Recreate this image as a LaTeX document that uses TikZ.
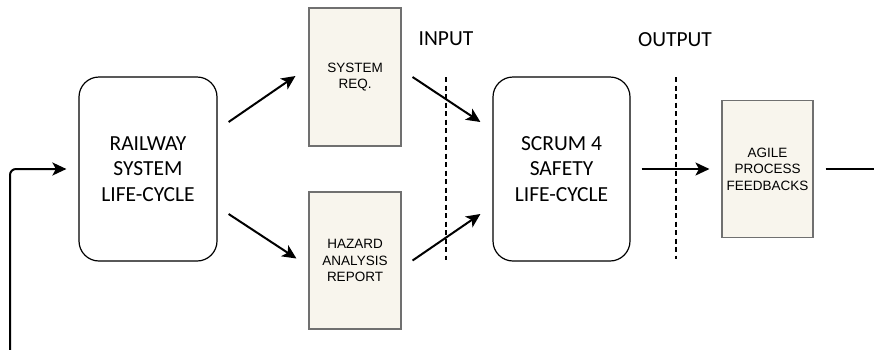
\documentclass[tikz,border=0pt]{standalone}
\usepackage{fontspec}
\setmainfont{Carlito}
\newfontfamily\docfont{Liberation Sans}
\usetikzlibrary{arrows.meta}

\definecolor{docfill}{HTML}{F8F5ED}
\definecolor{docedge}{HTML}{707070}

\tikzset{
  phase/.style={draw=black, line width=1.2pt, rounded corners=20pt, fill=white,
    inner sep=0pt, align=center, font={\fontsize{21.5}{25.5}\selectfont}},
  artefact/.style={draw=docedge, line width=1.1pt, fill=docfill,
    inner sep=0pt, align=center, font={\docfont\fontsize{13.5}{16.5}\selectfont}},
  flow/.style={line width=2pt, -{Stealth[length=14pt,width=13pt,inset=3.5pt]}},
  plain/.style={line width=2pt},
  boundary/.style={line width=2pt, dash pattern=on 5pt off 3.5pt},
  caption/.style={font={\fontsize{21.5}{25.5}\selectfont}, inner sep=0pt}
}

\begin{document}
\begin{tikzpicture}[x=1pt, y=-1pt]
  \useasboundingbox (0,0) rectangle (874,349);

  % life-cycle phases
  \node[phase, minimum width=138pt, minimum height=184pt] (rail) at (148,169)
    {RAILWAY\\SYSTEM\\LIFE-CYCLE};
  \node[phase, minimum width=137pt, minimum height=184pt] (scrum) at (561.5,169)
    {SCRUM 4\\SAFETY\\LIFE-CYCLE};

  % documents exchanged between phases
  \node[artefact, minimum width=92pt, minimum height=138pt] (sysreq) at (355,77)
    {SYSTEM\\REQ.};
  \node[artefact, minimum width=92pt, minimum height=137pt] (hazard) at (355,260.5)
    {HAZARD\\ANALYSIS\\REPORT};
  \node[artefact, minimum width=91pt, minimum height=137pt] (agile) at (767.5,169)
    {AGILE\\PROCESS\\FEEDBACKS};

  % interface labels and boundaries
  \node[caption] (inlabel) at (446,39) {INPUT};
  \node[caption] (outlabel) at (675,40) {OUTPUT};
  \coordinate (intop) at (446,77);
  \coordinate (inbot) at (446,260);
  \coordinate (outtop) at (676,77);
  \coordinate (outbot) at (676,259);
  \draw[boundary] (intop) -- (inbot);
  \draw[boundary] (outtop) -- (outbot);

  % flows
  \draw[flow] ([shift={(11,-47)}]rail.east) -- ([shift={(-13,-1)}]sysreq.west);
  \draw[flow] ([shift={(11,45)}]rail.east) -- ([shift={(-12,-2)}]hazard.west);
  \draw[flow] ([shift={(11,0)}]sysreq.east) -- ([shift={(-12,-47)}]scrum.west);
  \draw[flow] ([shift={(11,0)}]hazard.east) -- ([shift={(-12,45)}]scrum.west);
  \draw[flow] ([shift={(11,0)}]scrum.east) -- ([shift={(-12,0)}]agile.west);

  % feedback loop
  \coordinate (tail) at (874,169);
  \draw[plain] ([xshift=12]agile.east) -- (tail);
  \coordinate (loopstart) at (10,352);
  \draw[flow, rounded corners=6pt] (loopstart) |- ([xshift=-12]rail.west);
\end{tikzpicture}
\end{document}
